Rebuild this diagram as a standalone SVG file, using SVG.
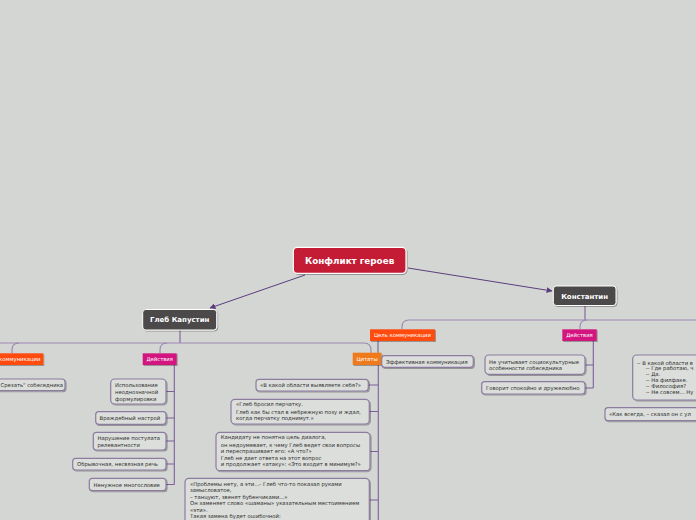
<svg xmlns="http://www.w3.org/2000/svg" width="696" height="520" viewBox="0 0 696 520">
<defs>
<marker id="arr" viewBox="0 0 10 10" refX="9" refY="5" markerWidth="6" markerHeight="6" orient="auto"><path d="M0,0 L10,5 L0,10 z" fill="#5b3d7c"/></marker>
<filter id="sh" x="-10%" y="-20%" width="130%" height="160%"><feDropShadow dx="1" dy="1" stdDeviation="0.7" flood-color="#000" flood-opacity="0.3"/></filter>
</defs>
<style>
text{font-family:"DejaVu Sans","Liberation Sans",sans-serif}
.main{fill:#c51f35;stroke:#fff;stroke-width:1.2}
.dark{fill:#4b4a48;stroke:#fff;stroke-width:1}
.tm{fill:#fff;font-size:8.8px;font-weight:bold}
.th{fill:#fff;font-size:7px;font-weight:bold}
.orange{fill:#ff4b0a}
.amber{fill:#ef7a1c}
.pink{fill:#d3197f}
.tl{fill:#fff;font-size:5.3px}
.box{fill:#dcdedb;stroke:#8c7ca0;stroke-width:1.2}
.t{fill:#2f2f2f;font-size:5.3px}
.con{fill:none;stroke:#9b87b2;stroke-width:1.1}
.cond{fill:none;stroke:#7d5f9c;stroke-width:1.1}
.arrow{fill:none;stroke:#5b3d7c;stroke-width:1}
</style>
<rect width="696" height="520" fill="#d4d6d3"/>

<g id="connectors">
<path class="arrow" d="M305,275 L210,308" marker-end="url(#arr)"/>
<path class="arrow" d="M408,268 L552,291" marker-end="url(#arr)"/>
<path class="cond" d="M180,330 V343"/>
<path class="con" d="M-5,343 H364 Q371,343 371,350 V353"/>
<path class="con" d="M12,353 V350 Q12,343 19,343"/>
<path class="con" d="M160,353 V350 Q160,343 167,343"/>
<path class="cond" d="M174.3,365 V484.5"/>
<path class="cond" d="M166,391.5 H174.3 M166,418 H174.3 M166,441 H174.3 M166,464 H174.3 M166,484.5 H174.3"/>
<path class="cond" d="M378.3,365 V520"/>
<path class="cond" d="M368.3,385 H378.3 M369.3,411.5 H378.3 M370,451.5 H378.3 M369.3,500 H378.3"/>
<path class="cond" d="M585,305 V320"/>
<path class="con" d="M402,329 V327 Q402,320 409,320 H696"/>
<path class="con" d="M580,329 V327 Q580,320 587,320"/>
<path class="cond" d="M378,341 V361.5 H382"/>
<path class="cond" d="M593.3,341 V388"/>
<path class="cond" d="M585,365 H593.3 M585,388 H593.3"/>
</g>

<g id="root"><rect class="main" x="293.3" y="247.3" width="112.7" height="26" rx="4" filter="url(#sh)"/><text class="tm" x="349.6" y="263.6" text-anchor="middle">Конфликт героев</text></g>

<g id="gleb"><rect class="dark" x="142.7" y="309.5" width="74" height="20.5" rx="3" filter="url(#sh)"/><text class="th" x="179.7" y="322.4" text-anchor="middle">Глеб Капустин</text></g>

<g id="konst"><rect class="dark" x="553.3" y="286" width="62.7" height="19.5" rx="3" filter="url(#sh)"/><text class="th" x="584.6" y="298.5" text-anchor="middle">Константин</text></g>

<g id="g-goal"><rect class="orange" x="-24" y="353.3" width="67.3" height="11.7" filter="url(#sh)"/><text class="tl" x="40.5" y="361.2" text-anchor="end">коммуникации</text></g>
<g id="g-goal-1"><rect class="box" x="-10" y="379" width="75" height="11.7" rx="3" filter="url(#sh)"/><text class="t" x="0.5" y="386.8">Срезать" собеседника</text></g>

<g id="g-act"><rect class="pink" x="142.7" y="353.3" width="34" height="11.7" filter="url(#sh)"/><text class="tl" x="159.7" y="361.2" text-anchor="middle">Действия</text></g>
<g id="g-act-1"><rect class="box" x="110.7" y="379" width="55.3" height="25" rx="4" filter="url(#sh)"/><text class="t" x="115" y="387">Использование</text><text class="t" x="115" y="394">неоднозначной</text><text class="t" x="115" y="400.6">формулировки</text></g>
<g id="g-act-2"><rect class="box" x="95.7" y="411.7" width="70.3" height="12.6" rx="3" filter="url(#sh)"/><text class="t" x="99.5" y="420">Враждебный настрой</text></g>
<g id="g-act-3"><rect class="box" x="93.3" y="432.3" width="72.7" height="17.7" rx="3" filter="url(#sh)"/><text class="t" x="97.5" y="439.7">Нарушение постулата</text><text class="t" x="97.5" y="446.7">релевантности</text></g>
<g id="g-act-4"><rect class="box" x="72.7" y="458.3" width="93.3" height="11.7" rx="3" filter="url(#sh)"/><text class="t" x="77" y="466.2">Обрывочная, несвязная речь</text></g>
<g id="g-act-5"><rect class="box" x="89.3" y="478.3" width="76.7" height="12.4" rx="3" filter="url(#sh)"/><text class="t" x="93.5" y="486.5">Ненужное многословие</text></g>

<g id="g-quo"><rect class="amber" x="352.7" y="352.7" width="28.7" height="12.3" filter="url(#sh)"/><text class="tl" x="367" y="360.8" text-anchor="middle">Цитаты</text></g>
<g id="g-quo-1"><rect class="box" x="256" y="379.3" width="112.3" height="11.7" rx="3" filter="url(#sh)"/><text class="t" x="260" y="387.2">«В какой области выявляете себя?»</text></g>
<g id="g-quo-2"><rect class="box" x="231" y="399.3" width="138.3" height="24.7" rx="4" filter="url(#sh)"/><text class="t" x="236" y="406.3">«Глеб бросил перчатку.</text><text class="t" x="236" y="413.6">Глеб как бы стал в небрежную позу и ждал,</text><text class="t" x="236" y="420.3">когда перчатку поднимут.»</text></g>
<g id="g-quo-3"><rect class="box" x="216" y="432.3" width="154" height="38.4" rx="4" filter="url(#sh)"/><text class="t" x="220.7" y="439.3">Кандидату не понятна цель диалога,</text><text class="t" x="220.7" y="446.5">он недоумевает, к чему Глеб ведет свои вопросы</text><text class="t" x="220.7" y="452.8">и переспрашивает его: «А что?»</text><text class="t" x="220.7" y="460">Глеб не дает ответа на этот вопрос</text><text class="t" x="220.7" y="466">и продолжает «атаку»: «Это входит в минимум?»</text></g>
<g id="g-quo-4"><rect class="box" x="185" y="478.3" width="184.3" height="60" rx="4" filter="url(#sh)"/><text class="t" x="190" y="485.5">«Проблемы нету, а эти...- Глеб что-то показал руками</text><text class="t" x="190" y="492.2">замысловатое,</text><text class="t" x="190" y="498.5">– танцуют, звенят бубенчиками...»</text><text class="t" x="190" y="505.3">Он заменяет слово «шаманы» указательным местоимением</text><text class="t" x="190" y="511.5">«эти».</text><text class="t" x="190" y="518.3">Такая замена будет ошибочной:</text></g>

<g id="k-goal"><rect class="orange" x="370" y="329.3" width="65" height="11.7" filter="url(#sh)"/><text class="tl" x="402.5" y="337.2" text-anchor="middle">Цель коммуникации</text></g>
<g id="k-goal-1"><rect class="box" x="381.7" y="355.7" width="91.6" height="11.6" rx="3" filter="url(#sh)"/><text class="t" x="386" y="363.6">Эффективная коммуникация</text></g>

<g id="k-act"><rect class="pink" x="562.3" y="329.3" width="34.4" height="11.7" filter="url(#sh)"/><text class="tl" x="579.5" y="337.2" text-anchor="middle">Действия</text></g>
<g id="k-act-1"><rect class="box" x="485" y="355" width="100" height="19.3" rx="4" filter="url(#sh)"/><text class="t" x="489" y="364.2">Не учитывает социокультурные</text><text class="t" x="489" y="370.3">особенности собеседника</text></g>
<g id="k-act-2"><rect class="box" x="481.7" y="381.7" width="103.3" height="12.3" rx="3" filter="url(#sh)"/><text class="t" x="486" y="390">Говорит спокойно и дружелюбно</text></g>

<g id="k-quo-1"><rect class="box" x="632.7" y="355" width="90" height="45" rx="4" filter="url(#sh)"/><text class="t" x="636.7" y="364.6">-- В какой области в</text><text class="t" x="645.7" y="370.3">-- Где работаю, ч</text><text class="t" x="645.7" y="376">-- Да.</text><text class="t" x="645.7" y="382">-- На филфаке.</text><text class="t" x="645.7" y="387.7">-- Философия?</text><text class="t" x="645.7" y="393.7">-- Не совсем... Ну</text></g>
<g id="k-quo-2"><rect class="box" x="605" y="407.7" width="120" height="13" rx="3" filter="url(#sh)"/><text class="t" x="609" y="416.3">«Как всегда, – сказал он с ул</text></g>
</svg>
